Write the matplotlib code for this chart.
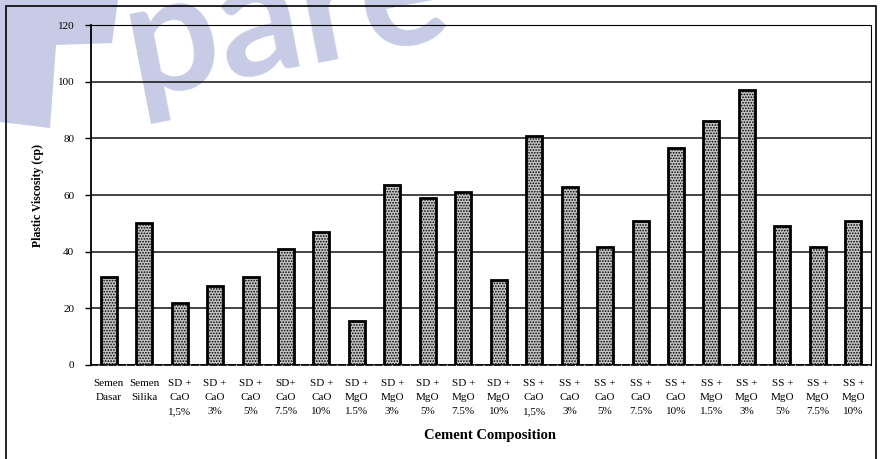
import matplotlib.pyplot as plt
from matplotlib.patches import Polygon, Rectangle

categories = ["Semen\nDasar", "Semen\nSilika",
              "SD +\nCaO\n1,5%", "SD +\nCaO\n3%", "SD +\nCaO\n5%", "SD+\nCaO\n7.5%", "SD +\nCaO\n10%",
              "SD +\nMgO\n1.5%", "SD +\nMgO\n3%", "SD +\nMgO\n5%", "SD +\nMgO\n7.5%", "SD +\nMgO\n10%",
              "SS +\nCaO\n1,5%", "SS +\nCaO\n3%", "SS +\nCaO\n5%", "SS +\nCaO\n7.5%", "SS +\nCaO\n10%",
              "SS +\nMgO\n1.5%", "SS +\nMgO\n3%", "SS +\nMgO\n5%", "SS +\nMgO\n7.5%", "SS +\nMgO\n10%"]
viscosity = [31, 50, 22, 28, 31, 41, 47, 15.5, 63.5, 59, 61, 30,
             81, 63, 41.5, 51, 76.5, 86, 97, 49, 41.5, 51]
yticks = [0, 20, 40, 60, 80, 100, 120]

serif = ["Liberation Serif", "DejaVu Serif"]
plt.rcParams['font.family'] = serif
plt.rcParams['hatch.color'] = '#4a4a4a'
plt.rcParams['hatch.linewidth'] = 0.8

W, H = 880, 459
fig = plt.figure(figsize=(8.8, 4.59), dpi=100)

# watermark (scan logo), kept behind the chart
wm = '#c8cbe5'
fig.patches.append(Polygon([(0 / W, 1.0), (118 / W, 1.0), (112 / W, 1 - 43 / H), (56 / W, 1 - 45 / H),
                            (50 / W, 1 - 128 / H), (0 / W, 1 - 122 / H)],
                           closed=True, transform=fig.transFigure, facecolor=wm, edgecolor='none', zorder=-2))
fig.text(112 / W, 1 - 96 / H, "pare", fontsize=118, color=wm, rotation=11,
         family=["Lato", "DejaVu Sans"], fontweight='bold', ha='left', va='baseline', zorder=-2)

# outer frame
fig.patches.append(Rectangle((6 / W, -0.01), (W - 10) / W, 1 - 6 / H + 0.01, transform=fig.transFigure,
                             fill=False, edgecolor='black', linewidth=1.2, zorder=-1))

ax = fig.add_axes([91 / W, 1 - 365 / H, 780 / W, 340 / H])
ax.set_zorder(1)
ax.patch.set_alpha(0)

x = list(range(len(categories)))
ax.bar(x, viscosity, width=0.45, facecolor='#c4c4c4', edgecolor='black', linewidth=2,
       hatch='......', zorder=3)

ax.set_xlim(-0.5, len(categories) - 0.5)
ax.set_ylim(0, 120)
ax.set_yticks(yticks)
ax.set_yticklabels([str(v) for v in yticks], fontsize=8)
ax.yaxis.grid(True, color='#111111', linewidth=1.1, zorder=1)
ax.set_axisbelow(True)

ax.set_xticks(x)
ax.set_xticklabels(categories, fontsize=8, linespacing=1.75, va='top')
ax.tick_params(axis='x', length=0, pad=10)
ax.tick_params(axis='y', length=4, width=1, direction='out', pad=8)

ax.spines['left'].set_linewidth(1.3)
ax.spines['bottom'].set_linewidth(1.2)
ax.spines['bottom'].set_linestyle((0, (4, 1.5)))
ax.spines['top'].set_linewidth(0.8)
ax.spines['top'].set_linestyle((0, (2, 1)))
ax.spines['right'].set_linewidth(0.8)
ax.spines['right'].set_linestyle((0, (2, 1)))

ax.set_ylabel("Plastic Viscosity (cp)", fontsize=8.5, fontweight='bold', labelpad=10)
fig.text(490 / W, 1 - 436 / H, "Cement Composition", fontsize=10.5, fontweight='bold',
         ha='center', va='center')

fig.savefig("out.png", dpi=100)
